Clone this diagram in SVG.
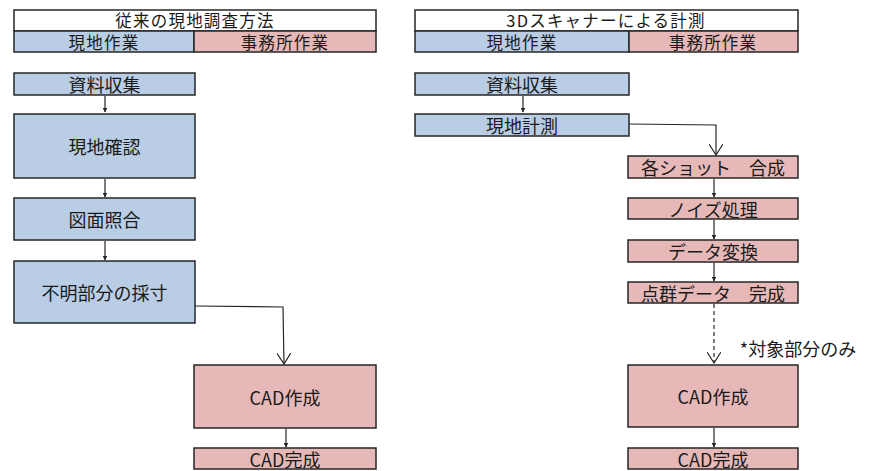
<svg xmlns="http://www.w3.org/2000/svg" width="872" height="471" viewBox="0 0 872 471">
<defs>
<style>
.b{fill:#b9cde5;stroke:#262626;stroke-width:1.5}
.p{fill:#e6b9b8;stroke:#262626;stroke-width:1.5}
.w{fill:#ffffff;stroke:#262626;stroke-width:1.5}
text{font-family:"Noto Sans CJK JP","Liberation Sans",sans-serif;font-size:18px;fill:#1a1a1a;text-anchor:middle;dominant-baseline:central}
.h{font-size:16.5px;letter-spacing:1.2px}
.c{stroke:#262626;stroke-width:1.2;fill:none}
.s{marker-end:url(#sm)}
.o{marker-end:url(#op)}
</style>
<marker id="sm" viewBox="0 0 10 10" refX="9" refY="5" markerWidth="5" markerHeight="5" markerUnits="userSpaceOnUse" orient="auto"><path d="M0,0 L10,5 L0,10 z" fill="#262626"/></marker>
<marker id="op" viewBox="0 0 12 14" refX="11" refY="7" markerWidth="12" markerHeight="14" markerUnits="userSpaceOnUse" orient="auto"><path d="M0,0 L11,7 L0,14" fill="none" stroke="#262626" stroke-width="1.2"/></marker>
</defs>
<rect width="872" height="471" fill="#ffffff"/>
<g id="left-header">
<rect class="w" x="14" y="10" width="362" height="21"/>
<text class="h" x="195" y="20">従来の現地調査方法</text>
<rect class="b" x="14" y="31" width="180" height="21"/>
<text class="h" x="104" y="42">現地作業</text>
<rect class="p" x="194" y="31" width="182" height="21"/>
<text class="h" x="285" y="42">事務所作業</text>
</g>
<g id="right-header">
<rect class="w" x="415" y="10" width="383" height="21"/>
<text class="h" x="606" y="20">3Dスキャナーによる計測</text>
<rect class="b" x="415" y="31" width="214" height="21"/>
<text class="h" x="522" y="42">現地作業</text>
<rect class="p" x="629" y="31" width="169" height="21"/>
<text class="h" x="713" y="42">事務所作業</text>
</g>
<g id="L1"><rect class="b" x="14" y="73" width="181" height="22"/><text x="104.5" y="84">資料収集</text></g>
<g id="L2"><rect class="b" x="14" y="114" width="181" height="64"/><text x="104.5" y="146">現地確認</text></g>
<g id="L3"><rect class="b" x="14" y="198" width="181" height="42"/><text x="104.5" y="219">図面照合</text></g>
<g id="L4"><rect class="b" x="14" y="261" width="181" height="62"/><text x="104.5" y="292">不明部分の採寸</text></g>
<g id="L5"><rect class="p" x="194" y="365" width="182" height="63"/><text x="285" y="396.5">CAD作成</text></g>
<g id="L6"><rect class="p" x="194" y="448" width="182" height="21"/><text x="285" y="458.5">CAD完成</text></g>
<g id="R1"><rect class="b" x="415" y="73" width="214" height="22"/><text x="522" y="84">資料収集</text></g>
<g id="R2"><rect class="b" x="415" y="114" width="214" height="22"/><text x="522" y="125">現地計測</text></g>
<g id="R3"><rect class="p" x="628" y="156" width="170" height="22"/><text x="713" y="167">各ショット　合成</text></g>
<g id="R4"><rect class="p" x="628" y="198" width="170" height="21"/><text x="713" y="208.5">ノイズ処理</text></g>
<g id="R5"><rect class="p" x="628" y="240" width="170" height="22"/><text x="713" y="251">データ変換</text></g>
<g id="R6"><rect class="p" x="628" y="282" width="170" height="21"/><text x="713" y="292.5">点群データ　完成</text></g>
<g id="R7"><rect class="p" x="628" y="365" width="170" height="62"/><text x="713" y="396">CAD作成</text></g>
<g id="R8"><rect class="p" x="628" y="448" width="170" height="21"/><text x="713" y="458.5">CAD完成</text></g>
<text x="798" y="348">*対象部分のみ</text>
<g id="connectors">
<path class="c s" d="M105,96 V112"/>
<path class="c s" d="M105,179 V197"/>
<path class="c s" d="M105,241 V260"/>
<path class="c o" d="M195,306 L283,307 L284,364"/>
<path class="c s" d="M286,429 V447"/>
<path class="c s" d="M523,96 V112"/>
<path class="c o" d="M629,124 L716,125 L716,155"/>
<path class="c s" d="M714,179 V197"/>
<path class="c s" d="M714,220 V239"/>
<path class="c s" d="M714,263 V281"/>
<path class="c o" d="M714,304 V363" stroke-dasharray="4,3"/>
<path class="c s" d="M714,428 V447"/>
</g>
</svg>
